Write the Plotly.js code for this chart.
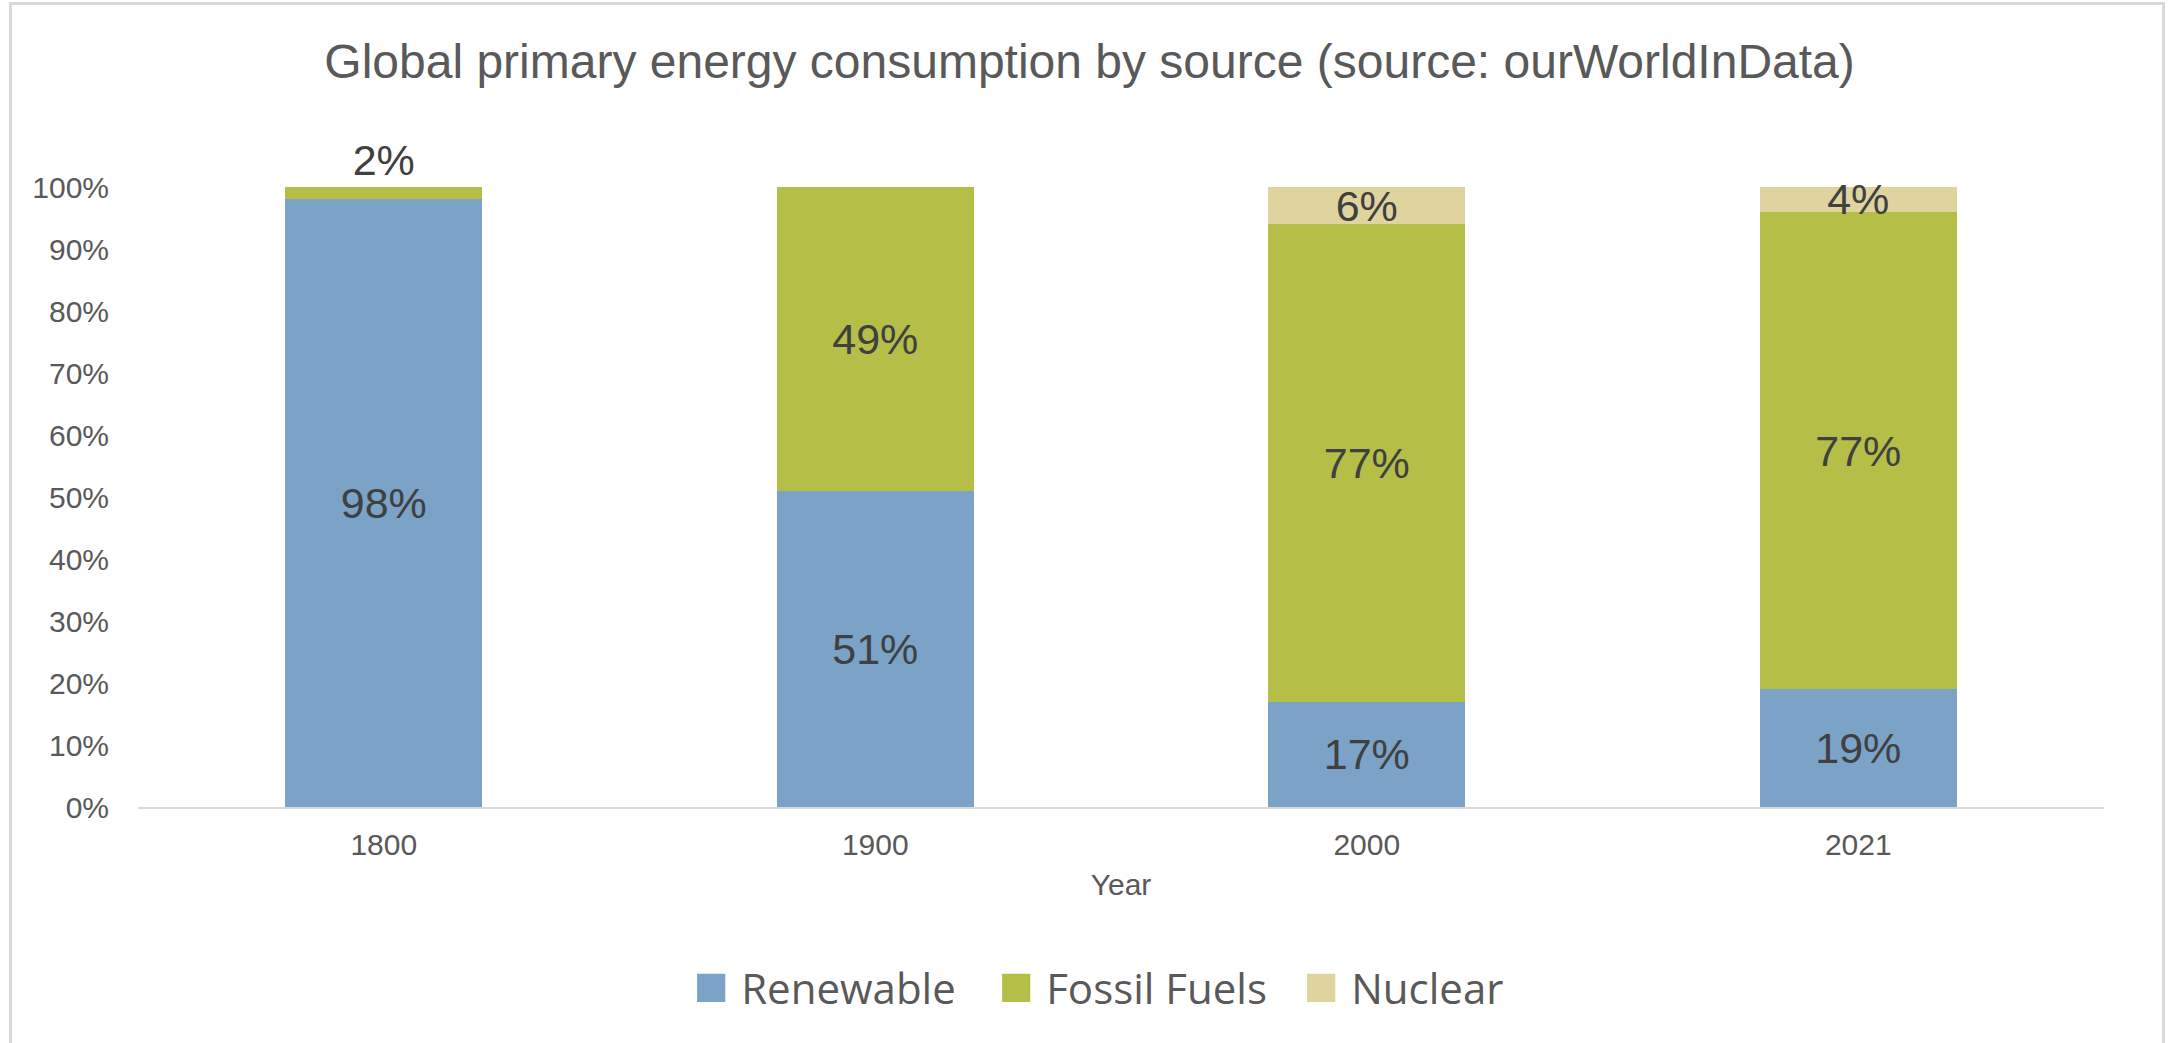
<!DOCTYPE html>
<html>
<head>
<meta charset="utf-8">
<script src="https://cdn.plot.ly/plotly-3.0.1.min.js"></script>
<style>
html, body { margin: 0; padding: 0; background: #ffffff; overflow: hidden; }
#frame { position: absolute; left: 9px; top: 2px; width: 2156px; height: 1100px; border: 3px solid #d9d9d9; box-sizing: border-box; }
#chart { position: absolute; left: 0; top: 0; width: 2171px; height: 1043px; }
</style>
</head>
<body>
<div id="frame"></div>
<div id="chart"></div>
<script>
// ---- data ----
var years = ['1800', '1900', '2000', '2021'];
var renewable = [98, 51, 17, 19];
var fossilFuels = [2, 49, 77, 77];
var nuclear = [0, 0, 6, 4];
var seriesNames = ['Renewable', 'Fossil Fuels', 'Nuclear'];
var chartTitle = 'Global primary energy consumption by source (source: ourWorldInData)';
var xTitle = 'Year';

var colors = ['#7ba2c7', '#b5be47', '#dfd49d'];
var labelFont = { family: 'Liberation Sans, Arial, sans-serif', size: 43, color: '#404040' };

function labels(vals) { return vals.map(function (v) { return v > 0 ? v + '%' : ''; }); }

function makeTrace(vals, name, color, positions) {
  return {
    type: 'bar',
    x: years,
    y: vals,
    name: name,
    marker: { color: color, line: { width: 0 } },
    text: labels(vals),
    texttemplate: '%{text}',
    textposition: positions,
    textangle: 0,
    constraintext: 'none',
    insidetextanchor: 'middle',
    insidetextfont: labelFont,
    outsidetextfont: labelFont,
    cliponaxis: false,
    hoverinfo: 'x+y+name'
  };
}

var data = [
  makeTrace(renewable, seriesNames[0], colors[0], 'inside'),
  makeTrace(fossilFuels, seriesNames[1], colors[1], ['outside', 'inside', 'inside', 'inside']),
  makeTrace(nuclear, seriesNames[2], colors[2], 'inside')
];

var tickFont = { family: 'Liberation Sans, Arial, sans-serif', size: 30, color: '#595959' };

var layout = {
  width: 2171,
  height: 1043,
  barmode: 'stack',
  bargap: 0.6,
  paper_bgcolor: 'rgba(0,0,0,0)',
  plot_bgcolor: 'rgba(0,0,0,0)',
  margin: { l: 138, r: 67, t: 187, b: 236 },
  title: {
    text: chartTitle,
    font: { family: 'Liberation Sans, Arial, sans-serif', size: 48, color: '#595959' },
    x: 0.484,
    xanchor: 'center',
    xref: 'paper',
    y: 1 - 61 / 1043,
    yanchor: 'middle',
    yref: 'container'
  },
  xaxis: {
    type: 'category',
    showline: true,
    linecolor: '#d9d9d9',
    linewidth: 2,
    showgrid: false,
    zeroline: false,
    ticks: '',
    tickfont: tickFont,
    ticklabelstandoff: 10,
    title: { text: xTitle, font: tickFont, standoff: 14 }
  },
  yaxis: {
    range: [0, 100],
    dtick: 10,
    ticksuffix: '%',
    showgrid: false,
    zeroline: false,
    showline: false,
    ticks: '',
    tickfont: tickFont,
    ticklabelstandoff: 28
  },
  showlegend: true,
  legend: {
    orientation: 'h',
    x: 0.509,
    xanchor: 'center',
    y: (807 - 988) / 620,
    yanchor: 'middle',
    font: { family: 'Open Sans, Liberation Sans, sans-serif', size: 42, color: '#595959' },
    itemwidth: 50,
    entrywidth: 240,
    entrywidthmode: 'pixels',
    traceorder: 'normal',
    bgcolor: 'rgba(0,0,0,0)'
  }
};

Plotly.newPlot('chart', data, layout, { displayModeBar: false, staticPlot: true }).then(function () {
  document.querySelectorAll('.legendpoints path').forEach(function (p) {
    p.setAttribute('transform', (p.getAttribute('transform') || '') + ' scale(2.35)');
  });
});
</script>
</body>
</html>
